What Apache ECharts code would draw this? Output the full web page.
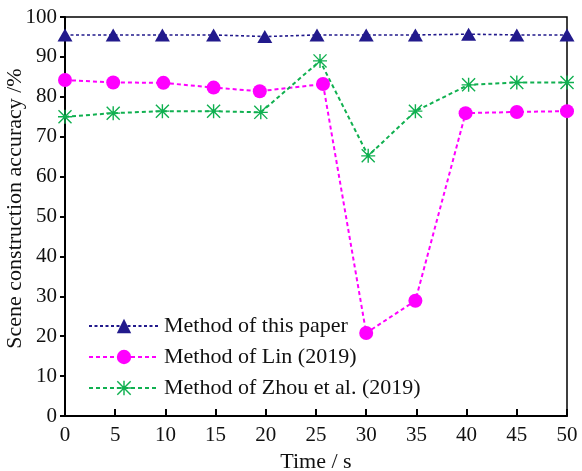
<!DOCTYPE html>
<html>
<head>
<meta charset="utf-8">
<script src="https://cdn.jsdelivr.net/npm/echarts@6/dist/echarts.min.js"></script>
<style>
html,body{margin:0;padding:0;background:#fff;}
#main{width:582px;height:471px;}
</style>
</head>
<body>
<div id="main"></div>
<script>
var seriesNames = ['Method of this paper', 'Method of Lin (2019)', 'Method of Zhou et al. (2019)'];
// x positions (s)
var xOurs = [0, 4.8, 9.7, 14.8, 19.9, 25.1, 30, 34.9, 40.2, 45, 50];
var yOurs = [95.5, 95.5, 95.5, 95.5, 95.1, 95.5, 95.5, 95.5, 95.7, 95.5, 95.5];
var xLin = [0, 4.8, 9.8, 14.8, 19.4, 25.7, 30, 34.9, 39.9, 45, 50];
var yLin = [84.2, 83.6, 83.5, 82.3, 81.4, 83.2, 20.8, 28.9, 75.9, 76.2, 76.4];
var xZhou = [0, 4.8, 9.7, 14.8, 19.5, 25.4, 30.2, 34.9, 40.2, 45, 50];
var yZhou = [75.0, 75.9, 76.4, 76.4, 76.1, 89.0, 65.2, 76.4, 83.0, 83.6, 83.6];

var colors = ['#221a8c', '#ff00ff', '#10b050'];
var asterisk = 'path://M0,9L20,9L20,11L0,11Z M9,0L11,0L11,20L9,20Z M1.4,0L20,18.6L18.6,20L0,1.4Z M18.6,0L20,1.4L1.4,20L0,18.6Z';

function pairs(xs, ys){
	var out = [];
	for(var i=0;i<xs.length;i++){
		out.push([xs[i], ys[i]]);
	}
	return out;
}

var font = '"Liberation Serif", "Times New Roman", serif';
var myChart = echarts.init(document.getElementById('main'));
var option = {
	animation: false,
	textStyle: {fontFamily: font},
	grid: {
		left: 65, right: 15, top: 17, bottom: 55,
		outerBoundsMode: 'none',
		containLabel: false,
		show: true, borderColor: '#000', borderWidth: 1.5
	},
	legend: {
		orient: 'vertical',
		left: 83,
		top: 310,
		itemWidth: 70,
		itemHeight: 18,
		itemGap: 9,
		data: seriesNames,
		textStyle: {fontFamily: font, fontSize: 22, color: '#111', lineHeight: 22}
	},
	xAxis: {
		type: 'value',
		min: 0, max: 50, interval: 5,
		name: 'Time / s',
		nameLocation: 'middle',
		nameGap: 31,
		nameTextStyle: {fontFamily: font, fontSize: 22, color: '#111', verticalAlign: 'top'},
		axisLine: {lineStyle: {color: '#000', width: 2}},
		axisTick: {inside: true, length: 7, lineStyle: {color: '#000', width: 2}},
		axisLabel: {fontFamily: font, fontSize: 21, color: '#111', margin: 9},
		splitLine: {show: false}
	},
	yAxis: {
		type: 'value',
		min: 0, max: 100, interval: 10,
		name: 'Scene construction accuracy /%',
		nameLocation: 'middle',
		nameGap: 39,
		nameMoveOverlap: false,
		nameTextStyle: {fontFamily: font, fontSize: 22, color: '#111', padding: [0, 0, 0, 16]},
		axisLine: {lineStyle: {color: '#000', width: 2}},
		axisTick: {inside: false, length: 5, lineStyle: {color: '#000', width: 2}},
		axisLabel: {fontFamily: font, fontSize: 21, color: '#111', margin: 8},
		splitLine: {show: false}
	},
	series: [
		{
			name: seriesNames[0],
			type: 'line',
			data: pairs(xOurs, yOurs),
			symbol: 'triangle',
			symbolSize: [15, 13],
			itemStyle: {color: colors[0]},
			lineStyle: {color: colors[0], width: 1.6, type: [3, 2.5]},
			z: 3
		},
		{
			name: seriesNames[1],
			type: 'line',
			data: pairs(xLin, yLin),
			symbol: 'circle',
			symbolSize: 14,
			itemStyle: {color: colors[1]},
			lineStyle: {color: colors[1], width: 2, type: [4, 3]},
			z: 2
		},
		{
			name: seriesNames[2],
			type: 'line',
			data: pairs(xZhou, yZhou),
			symbol: asterisk,
			symbolSize: 14,
			itemStyle: {color: colors[2]},
			lineStyle: {color: colors[2], width: 2, type: [4, 3]},
			z: 2
		}
	]
};
myChart.setOption(option);
</script>
</body>
</html>
